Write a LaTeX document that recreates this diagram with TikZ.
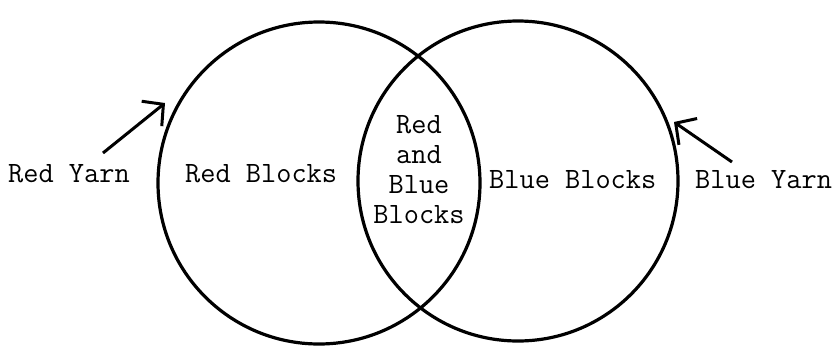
\documentclass[tikz,border=0pt]{standalone}
\usetikzlibrary{arrows.meta}
\begin{document}
\begin{tikzpicture}[x=1pt,y=-1pt,
  ring/.style={draw=black, line width=3.2pt, circle, inner sep=0pt, minimum size=#1},
  lbl/.style={font=\ttfamily\fontsize{29.5}{30}\selectfont, inner sep=0pt, anchor=base west},
  yarnarrow/.style={line width=3pt, -{Straight Barb[length=15pt,width=32pt,line width=3pt]}}]
\useasboundingbox (0,0) rectangle (837,346);
\node[ring=322pt] (left) at (319,183) {};
\node[ring=320pt] (right) at (518,181) {};
\node[lbl] (redyarn) at (8,182) {Red Yarn};
\node[lbl] (redblocks) at (185,182) {Red Blocks};
\node[lbl] (blueblocks) at (489,188) {Blue Blocks};
\node[lbl] (blueyarn) at (695,188) {Blue Yarn};
\node[lbl, anchor=base, align=center] (both) at (419,223) {Red\\and\\Blue\\Blocks};
\coordinate (rytail) at (103,153);
\coordinate (rytip) at (165,103);
\coordinate (bytail) at (732,162);
\coordinate (bytip) at (674,122);
\draw[yarnarrow] (rytail) -- (rytip);
\draw[yarnarrow] (bytail) -- (bytip);
\end{tikzpicture}
\end{document}
